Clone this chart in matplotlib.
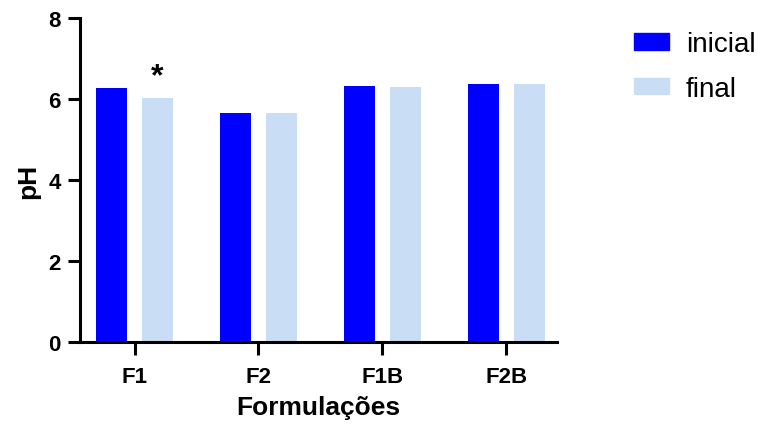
import numpy as np
import matplotlib.pyplot as plt
from matplotlib.patches import Patch

plt.rcParams['font.family'] = ['Liberation Sans', 'DejaVu Sans']

# pH das formulações no início e no fim do estudo
formulacoes = ["F1", "F2", "F1B", "F2B"]
ph_inicial = [6.26, 5.65, 6.32, 6.37]
ph_final = [6.03, 5.66, 6.30, 6.36]

cor_inicial = "#0000FF"
cor_final = "#C9DDF5"

fig = plt.figure(figsize=(7.57, 4.27), dpi=100)
ax = fig.add_axes([0.1057, 0.1967, 0.6301, 0.7588])

x = np.arange(len(formulacoes))
largura = 0.25
desloc = 0.185
ax.bar(x - desloc, ph_inicial, largura, color=cor_inicial)
ax.bar(x + desloc, ph_final, largura, color=cor_final)

# diferença significativa em F1
ax.text(x[0] + desloc, ph_final[0] + 0.15, "*", ha="center", va="bottom",
        fontsize=23, fontweight="bold")

ax.set_xlim(-0.44, 3.41)
ax.set_ylim(0, 8)
ax.set_yticks([0, 2, 4, 6, 8])
ax.set_xticks(x)
ax.set_xticklabels(formulacoes)

for s in ["top", "right"]:
    ax.spines[s].set_visible(False)
for s in ["left", "bottom"]:
    ax.spines[s].set_linewidth(2.2)
ax.tick_params(width=2.2, length=9, labelsize=16)
ax.tick_params(axis="x", pad=8)
ax.tick_params(axis="y", pad=5)
for lbl in ax.get_xticklabels() + ax.get_yticklabels():
    lbl.set_fontweight("bold")

ax.set_xlabel("Formulações", fontsize=19, fontweight="bold", labelpad=6)
ax.set_ylabel("pH", fontsize=19, fontweight="bold", labelpad=6)

handles = [Patch(color=cor_inicial, label="inicial"),
           Patch(color=cor_final, label="final")]
fig.legend(handles=handles, loc="upper left", bbox_to_anchor=(0.838, 0.925),
           frameon=False, fontsize=20, handlelength=1.25, handleheight=0.55,
           handletextpad=0.6, labelspacing=0.68, borderpad=0, borderaxespad=0)

fig.savefig("out.png", dpi=100)
